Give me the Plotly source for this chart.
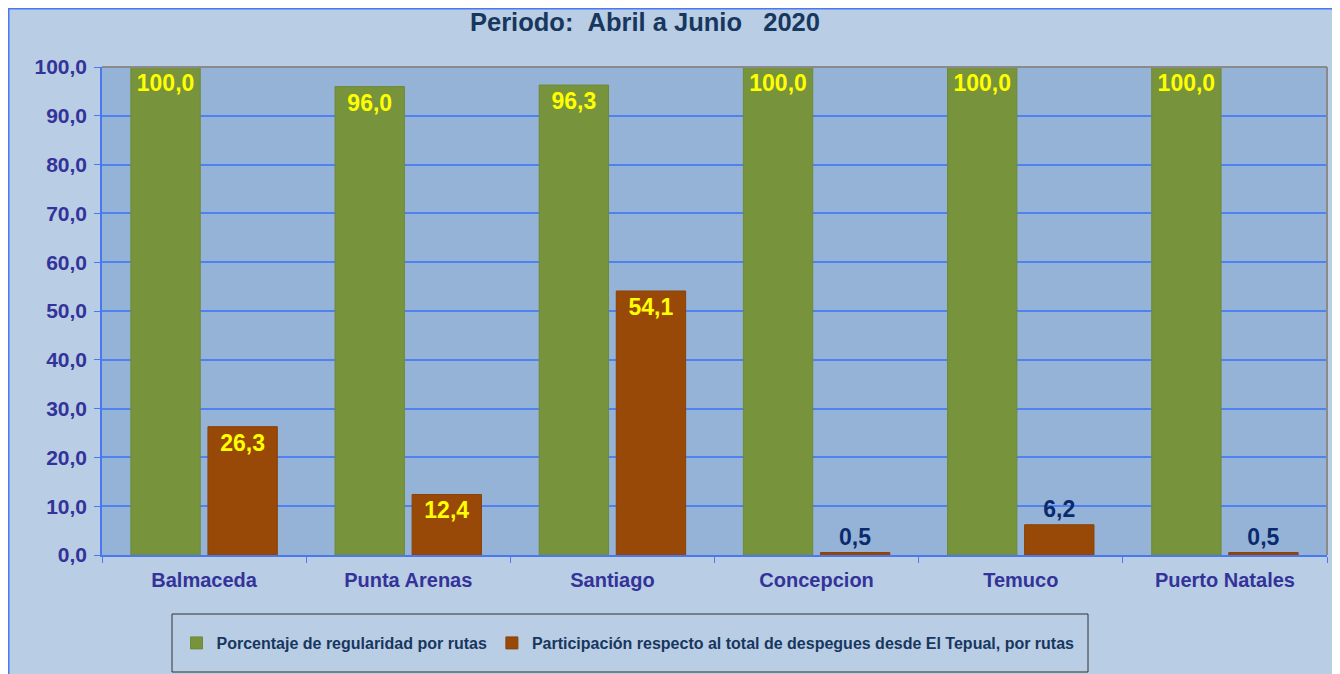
import plotly.graph_objects as go

categories = ["Balmaceda", "Punta Arenas", "Santiago", "Concepcion", "Temuco", "Puerto Natales"]
regularidad = [100.0, 96.0, 96.3, 100.0, 100.0, 100.0]
participacion = [26.3, 12.4, 54.1, 0.5, 6.2, 0.5]
series_names = ["Porcentaje de regularidad por rutas",
                "Participación respecto al total de despegues desde El Tepual, por rutas"]
y_ticks = [0, 10, 20, 30, 40, 50, 60, 70, 80, 90, 100]

# the page body has an 8px margin, so the figure is drawn 8px in from the window edge
OFF = 8
W, H = 1340 - OFF, 674 - OFF
L, R, T, B = 102 - OFF, 13, 67 - OFF, 674 - 555
pw, ph = W - L - R, H - T - B
FONT = "Liberation Sans, Arial"


def px_x(x):  # window pixel -> paper x
    return (x - OFF - L) / pw


def px_y(y):  # window pixel -> paper y
    return (H - B - (y - OFF)) / ph


fig = go.Figure()
fig.add_trace(go.Bar(
    x=categories, y=regularidad, name=series_names[0],
    marker=dict(color="#77933C", line=dict(color="#6E8A38", width=1)),
    texttemplate="%{y:.1f}", textposition="inside", insidetextanchor="end",
    textfont=dict(family=FONT, size=23, color="#FFFF00", weight="bold"),
    cliponaxis=False,
))
orange_pos = ["inside" if v > 10 else "outside" for v in participacion]
orange_col = ["#FFFF00" if v > 10 else "#0B2A6E" for v in participacion]
fig.add_trace(go.Bar(
    x=categories, y=participacion, name=series_names[1],
    marker=dict(color="#984807", line=dict(color="#8A4207", width=1)),
    texttemplate="%{y:.1f}", textposition=orange_pos, insidetextanchor="end",
    textfont=dict(family=FONT, size=23, color=orange_col, weight="bold"),
    cliponaxis=False,
))

shapes = [
    # chart border
    dict(type="rect", xref="paper", yref="paper", x0=px_x(OFF + 0.75), x1=px_x(1338),
         y0=px_y(674 + 5), y1=px_y(OFF + 0.75),
         fillcolor="rgba(0,0,0,0)", line=dict(color="#4A78F0", width=1.5)),
    # plot area top/right border
    dict(type="line", xref="paper", yref="paper", x0=0, x1=1, y0=1, y1=1,
         line=dict(color="#8A8A8A", width=2)),
    dict(type="line", xref="paper", yref="paper", x0=1, x1=1, y0=0, y1=1,
         line=dict(color="#8A8A8A", width=2)),
    # legend box
    dict(type="rect", xref="paper", yref="paper", x0=px_x(172), x1=px_x(1088),
         y0=px_y(672), y1=px_y(614),
         fillcolor="rgba(0,0,0,0)", line=dict(color="#333333", width=1)),
]

fig.update_layout(
    width=W, height=H,
    margin=dict(l=L, r=R, t=T, b=B, autoexpand=False),
    paper_bgcolor="#B9CDE5",
    plot_bgcolor="#95B3D7",
    separators=",.",
    font=dict(family=FONT, color="#333399"),
    title=dict(text="Periodo:\u00a0\u00a0Abril a Junio\u00a0\u00a0\u00a02020",
               x=(645 - OFF) / W, xanchor="center", xref="container",
               y=1 - (22 - OFF) / H, yanchor="middle", yref="container",
               font=dict(family=FONT, size=25.5, color="#17375E", weight="bold")),
    barmode="group", bargap=0.245, bargroupgap=0.1,
    showlegend=True,
    legend=dict(orientation="h", x=px_x(628), xanchor="center", y=px_y(643), yanchor="middle",
                bgcolor="rgba(0,0,0,0)", borderwidth=0,
                font=dict(family=FONT, size=16, color="#17375E", weight="bold"),
                itemwidth=30, tracegroupgap=0),
    shapes=shapes,
)
fig.update_xaxes(
    type="category", tickson="boundaries", ticks="outside", ticklen=6, tickcolor="#4A78F0",
    showline=True, linecolor="#4A78F0", linewidth=2, showgrid=False, ticklabelstandoff=6,
    tickfont=dict(family=FONT, size=20, color="#333399", weight="bold"),
)
fig.update_yaxes(
    range=[0, 100], tickvals=y_ticks, tickformat=".1f", ticks="outside", ticklen=6, tickcolor="#4A78F0",
    showline=True, linecolor="#4A78F0", linewidth=1.5, showgrid=True, gridcolor="#4F81F0", gridwidth=1.5,
    zeroline=False, ticklabelstandoff=3,
    tickfont=dict(family=FONT, size=21, color="#333399", weight="bold"),
)
fig.write_html("out.html")
